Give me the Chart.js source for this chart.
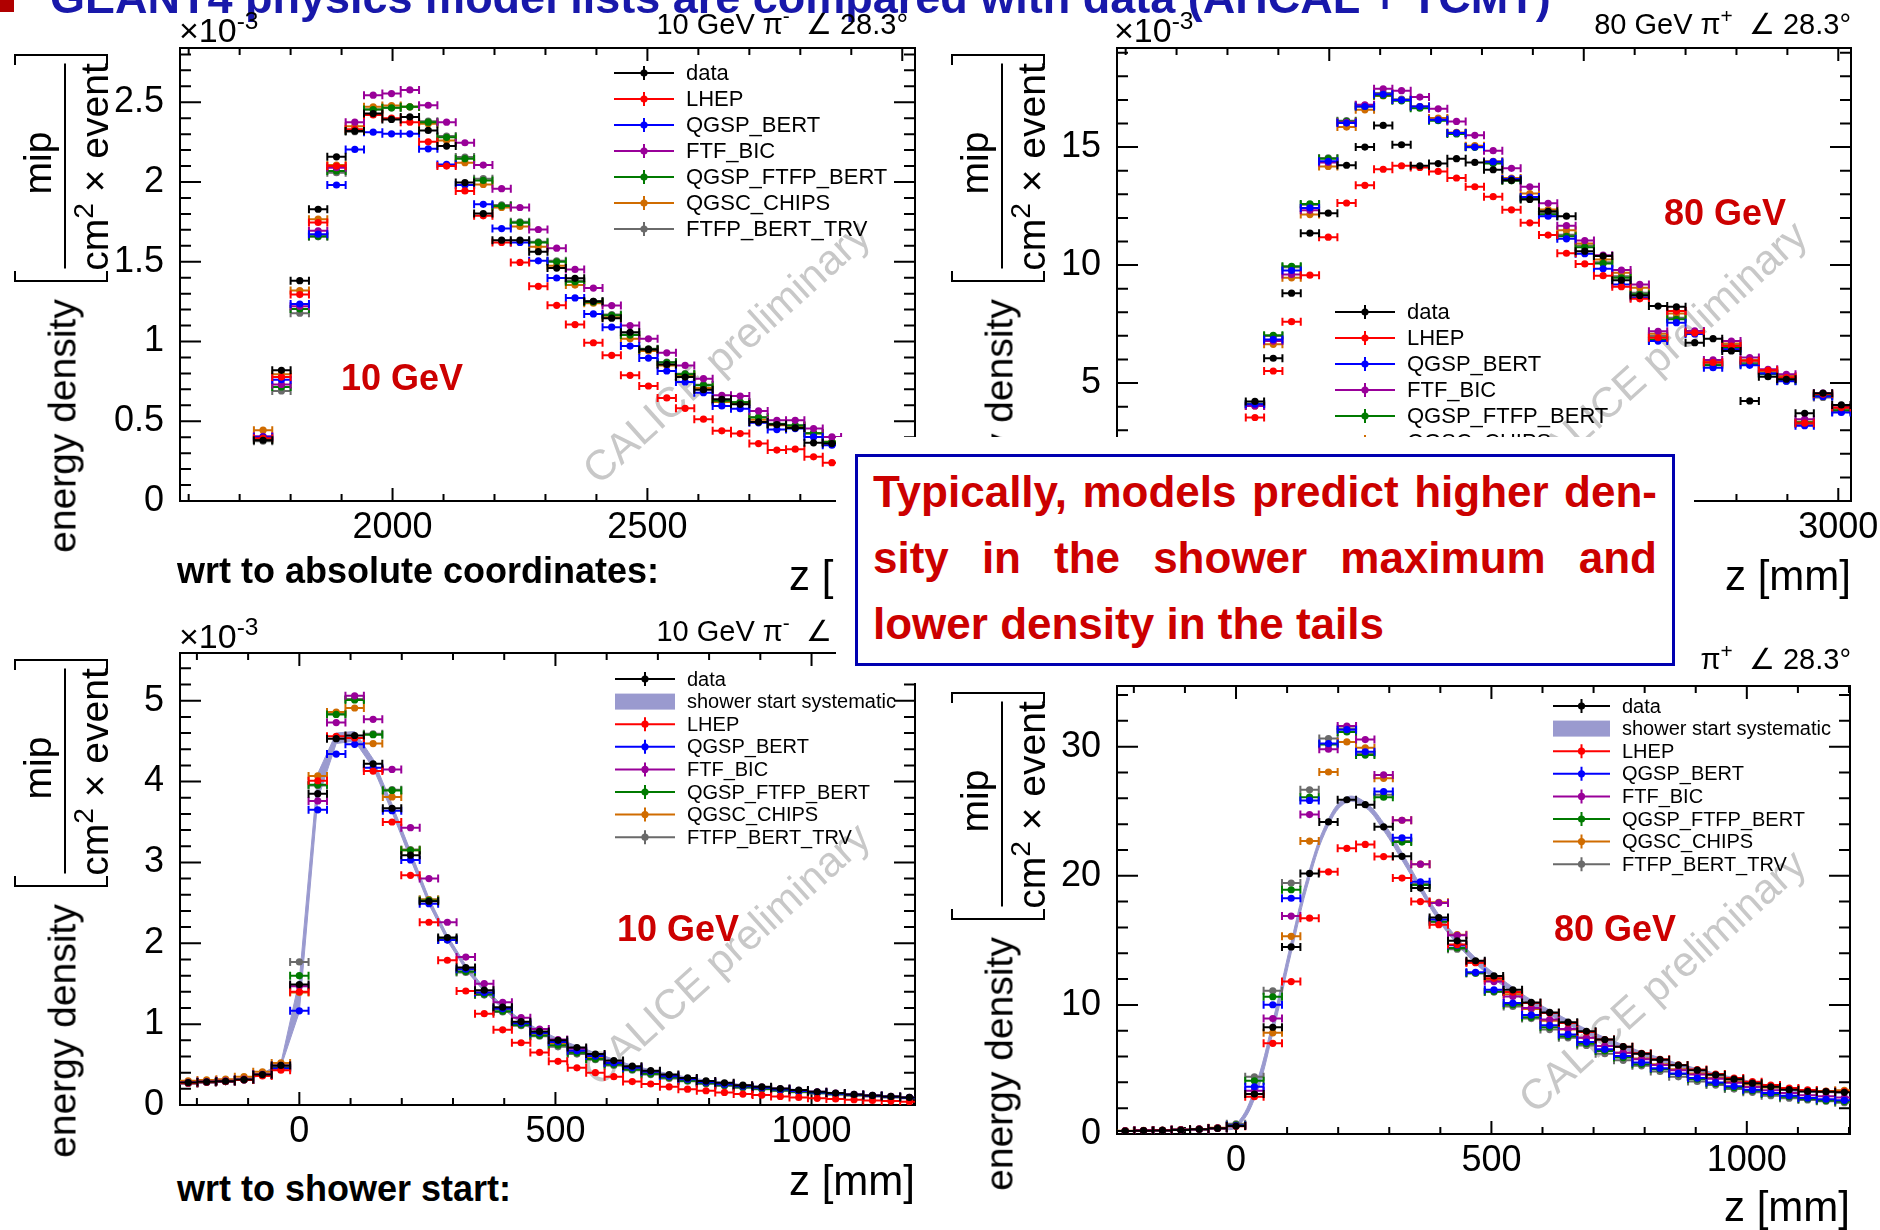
<!DOCTYPE html>
<html>
<head>
<meta charset="utf-8">
<title>GEANT4 physics lists vs data</title>
<script src="https://cdn.jsdelivr.net/npm/chart.js@4.4.1/dist/chart.umd.min.js"></script>
<style>
  html, body { margin: 0; padding: 0; background: #fff; }
  body { position: relative; width: 1880px; height: 1230px; overflow: hidden;
         font-family: "Liberation Sans", Arial, sans-serif; color: #000; }
  .a { position: absolute; white-space: nowrap; line-height: 1; }
  .r { position: absolute; white-space: nowrap; line-height: 1; transform: translate(-50%, -50%) rotate(-90deg); }
  .c { transform: translate(-50%, -50%); }
  .gev { font-weight: bold; color: #cc0000; font-size: 36px; }
  .brk { width: 228px; height: 94px; border-left: 2px solid #000; border-right: 2px solid #000; box-sizing: border-box; }
  .brk i { position: absolute; width: 9px; height: 2px; background: #000; }
  sup { font-size: 72%; vertical-align: 0; position: relative; top: -0.55em; }
  canvas { position: absolute; }
</style>
</head>
<body>
<div id="charts"></div>

<script>
// legend order and colours
const models = ['data', 'LHEP', 'QGSP_BERT', 'FTF_BIC', 'QGSP_FTFP_BERT', 'QGSC_CHIPS', 'FTFP_BERT_TRV'];
const modelColors = ['#000000', '#ff0000', '#0000ff', '#990099', '#007a00', '#d06c00', '#6a6a6a'];
const bandColor = '#9a9acf';

// tick labels
const absTicksX = [2000, 2500, 3000];
const startTicksX = [0, 500, 1000];
const abs10TicksY = [0, 0.5, 1, 1.5, 2, 2.5];
const abs80TicksY = [0, 5, 10, 15];
const st10TicksY = [0, 1, 2, 3, 4, 5];
const st80TicksY = [0, 10, 20, 30];

// bin centres (mm)
const zAbs10 = [1746,1782,1818,1854,1890,1926,1962,1998,2034,2070,2106,2142,2178,2214,2250,2286,2322,2358,2394,2430,2466,2502,2538,2574,2610,2646,2682,2718,2754,2790,2826,2862];
const zAbs80 = [1854,1890,1926,1962,1998,2034,2070,2106,2142,2178,2214,2250,2286,2322,2358,2394,2430,2466,2502,2538,2574,2610,2646,2682,2718,2754,2790,2826,2862,2898,2934,2970,3006];
const zStart = [-217,-181,-144,-108,-72,-36,0,36,72,108,144,181,217,253,289,325,361,397,433,469,505,542,578,614,650,686,722,758,794,830,866,903,939,975,1011,1047,1083,1119,1155,1191];

// 10 GeV, absolute z  (x10^-3)
const abs10Data  = [0.381,0.819,1.381,1.829,2.158,2.319,2.429,2.392,2.408,2.323,2.225,1.996,1.802,1.635,1.635,1.563,1.460,1.396,1.252,1.146,1.058,0.950,0.856,0.777,0.698,0.638,0.606,0.496,0.479,0.458,0.365,0.360];
const abs10LHEP  = [0.394,0.777,1.294,1.746,2.100,2.330,2.420,2.400,2.375,2.252,2.100,1.944,1.788,1.621,1.496,1.346,1.227,1.106,0.992,0.913,0.788,0.721,0.646,0.581,0.513,0.440,0.423,0.360,0.319,0.325,0.277,0.240];
const abs10QBert = [0.400,0.760,1.235,1.673,1.981,2.204,2.312,2.302,2.302,2.208,2.110,1.981,1.860,1.708,1.621,1.506,1.398,1.273,1.173,1.090,0.971,0.896,0.815,0.746,0.679,0.596,0.579,0.490,0.448,0.454,0.402,0.350];
const abs10FtfBic = [0.406,0.731,1.221,1.694,2.090,2.375,2.544,2.554,2.577,2.481,2.375,2.246,2.106,1.958,1.840,1.702,1.585,1.452,1.335,1.225,1.100,1.017,0.929,0.850,0.767,0.663,0.658,0.565,0.506,0.506,0.454,0.402];
const abs10QFtfp = [0.385,0.715,1.204,1.660,2.069,2.323,2.454,2.465,2.471,2.375,2.280,2.146,2.010,1.850,1.745,1.620,1.500,1.375,1.248,1.164,1.040,0.952,0.868,0.795,0.725,0.629,0.619,0.523,0.483,0.473,0.424,0.370];
const abs10Chips = [0.444,0.794,1.319,1.767,2.106,2.350,2.471,2.479,2.471,2.365,2.260,2.121,1.985,1.840,1.721,1.594,1.475,1.354,1.240,1.152,1.017,0.940,0.850,0.788,0.708,0.621,0.610,0.510,0.475,0.469,0.423,0.371];
const abs10Trv   = [0.375,0.690,1.177,1.656,2.058,2.315,2.454,2.465,2.471,2.381,2.288,2.156,2.021,1.856,1.750,1.625,1.506,1.381,1.252,1.169,1.044,0.954,0.871,0.798,0.729,0.631,0.621,0.527,0.485,0.475,0.427,0.371];

// 80 GeV, absolute z  (x10^-3)
const abs80Data  = [4.22,6.05,8.81,11.35,12.20,14.23,15.00,15.92,15.10,14.21,14.30,14.51,14.35,14.04,13.59,12.78,12.28,12.07,10.59,10.38,9.36,8.71,8.26,8.23,6.71,6.88,6.36,4.24,5.27,5.16,3.72,4.57,4.07];
const abs80LHEP  = [3.54,5.51,7.60,9.57,11.18,12.63,13.38,14.06,14.21,14.14,13.97,13.69,13.32,12.90,12.34,11.79,11.27,10.50,10.05,9.55,9.08,8.57,6.92,8.05,7.13,5.87,6.57,5.94,5.54,5.23,3.30,4.53,3.96];
const abs80QBert = [4.10,6.85,9.77,12.42,14.40,16.02,16.72,17.24,17.00,16.72,16.16,15.60,15.00,14.38,13.65,12.88,12.07,11.11,10.48,9.84,9.18,8.62,6.78,7.56,7.08,5.65,6.43,5.75,5.40,5.08,3.19,4.43,3.75];
const abs80FtfBic = [4.03,6.78,9.60,12.32,14.35,16.05,16.79,17.47,17.39,17.12,16.62,16.09,15.50,14.85,14.10,13.32,12.62,11.67,11.04,10.42,9.79,9.18,7.19,8.05,7.21,5.98,6.78,6.08,5.58,5.37,3.47,4.57,3.96];
const abs80QFtfp = [4.12,7.02,9.95,12.59,14.51,16.09,16.72,17.19,16.96,16.65,16.12,15.56,14.99,14.30,13.57,12.82,12.14,11.22,10.76,10.07,9.46,8.76,6.85,7.70,7.14,5.75,6.50,5.80,5.37,5.09,3.33,4.46,3.85];
const abs80Chips = [4.03,6.64,9.46,12.14,14.18,15.85,16.58,17.17,17.00,16.72,16.23,15.62,15.06,14.40,13.69,13.03,12.35,11.48,10.91,10.24,9.67,9.04,7.09,7.95,7.16,5.89,6.68,5.98,5.51,5.30,3.36,4.48,3.92];
const abs80Trv   = [4.08,6.99,9.91,12.56,14.54,16.12,16.77,17.29,17.03,16.72,16.19,15.60,15.03,14.33,13.62,12.85,12.21,11.29,10.83,10.12,9.53,8.83,6.99,7.77,7.11,5.80,6.64,5.87,5.44,5.16,3.26,4.39,3.78];

// 10 GeV, z from shower start  (x10^-3)
const st10Data  = [0.278,0.286,0.294,0.315,0.376,0.490,1.490,3.850,4.530,4.570,4.220,3.670,3.090,2.520,2.070,1.700,1.420,1.210,1.030,0.910,0.800,0.710,0.630,0.550,0.480,0.425,0.376,0.335,0.298,0.274,0.245,0.225,0.204,0.184,0.164,0.147,0.131,0.119,0.106,0.094];
const st10LHEP  = [0.270,0.280,0.290,0.310,0.360,0.430,1.400,4.010,4.560,4.540,4.130,3.500,2.840,2.260,1.790,1.410,1.130,0.930,0.770,0.650,0.540,0.460,0.400,0.350,0.290,0.260,0.225,0.196,0.176,0.155,0.135,0.123,0.106,0.094,0.082,0.074,0.065,0.057,0.049,0.041];
const st10QBert = [0.270,0.280,0.290,0.310,0.370,0.450,1.165,3.650,4.340,4.460,4.170,3.640,3.030,2.490,2.040,1.680,1.390,1.190,1.010,0.890,0.780,0.670,0.605,0.520,0.460,0.410,0.356,0.319,0.282,0.258,0.233,0.213,0.192,0.172,0.155,0.139,0.127,0.114,0.102,0.090];
const st10FtfBic = [0.280,0.290,0.300,0.320,0.380,0.490,1.470,3.760,4.730,5.060,4.770,4.150,3.430,2.800,2.260,1.830,1.500,1.270,1.080,0.940,0.810,0.695,0.620,0.530,0.470,0.417,0.368,0.327,0.290,0.266,0.241,0.221,0.200,0.180,0.164,0.147,0.131,0.119,0.106,0.094];
const st10QFtfp = [0.270,0.280,0.290,0.310,0.370,0.460,1.600,3.960,4.830,5.010,4.580,3.890,3.150,2.530,2.050,1.650,1.370,1.160,0.990,0.860,0.740,0.645,0.570,0.500,0.440,0.385,0.340,0.300,0.270,0.245,0.220,0.200,0.180,0.163,0.147,0.134,0.122,0.110,0.098,0.086];
const st10Chips = [0.300,0.310,0.320,0.350,0.410,0.520,1.390,4.070,4.860,4.910,4.470,3.810,3.150,2.540,2.050,1.680,1.390,1.190,1.000,0.880,0.760,0.660,0.590,0.510,0.450,0.400,0.356,0.320,0.280,0.258,0.233,0.213,0.192,0.172,0.155,0.139,0.127,0.114,0.102,0.090];
const st10Trv   = [0.270,0.280,0.290,0.310,0.370,0.470,1.770,3.950,4.840,5.020,4.590,3.900,3.160,2.540,2.040,1.640,1.360,1.150,0.980,0.850,0.720,0.630,0.560,0.490,0.430,0.376,0.327,0.294,0.262,0.237,0.213,0.196,0.176,0.159,0.143,0.131,0.119,0.106,0.094,0.082];
const st10SysLo = [0.27,0.28,0.29,0.31,0.37,0.47,1.15,3.78,4.47,4.50,4.17,3.62,3.04,2.48,2.03,1.67,1.40,1.19,1.01,0.89,0.78,0.70,0.62,0.54,0.47,0.415,0.368,0.328,0.294,0.268,0.240,0.220,0.199,0.180,0.160,0.143,0.128,0.116,0.103,0.091];
const st10SysHi = [0.29,0.30,0.30,0.32,0.39,0.52,1.55,4.10,4.60,4.62,4.28,3.72,3.14,2.56,2.10,1.73,1.45,1.23,1.05,0.93,0.82,0.73,0.645,0.565,0.49,0.435,0.385,0.343,0.307,0.281,0.251,0.231,0.209,0.189,0.169,0.152,0.135,0.123,0.110,0.098];

// 80 GeV, z from shower start
const st80Data  = [0.23,0.26,0.28,0.31,0.36,0.44,0.61,3.10,8.27,14.49,20.18,24.17,25.89,25.51,23.79,21.51,19.05,16.77,14.96,13.42,12.24,11.17,10.19,9.42,8.66,7.96,7.32,6.76,6.22,5.76,5.33,4.94,4.58,4.25,3.94,3.66,3.43,3.30,3.28,3.23];
const st80LHEP  = [0.24,0.27,0.29,0.32,0.37,0.45,0.60,2.89,7.02,11.81,16.72,20.31,22.13,22.43,21.49,19.82,18.00,16.21,14.67,13.27,12.06,10.99,10.14,9.37,8.60,7.91,7.32,6.76,6.25,5.79,5.35,4.99,4.64,4.33,4.05,3.79,3.56,3.41,3.30,3.28];
const st80QBert = [0.24,0.27,0.29,0.32,0.37,0.45,0.66,3.66,10.01,18.26,25.84,30.24,31.32,29.60,26.53,22.94,19.54,16.62,14.62,12.52,11.17,10.14,9.22,8.42,7.71,7.12,6.56,6.04,5.53,5.10,4.69,4.33,3.99,3.69,3.43,3.18,2.97,2.79,2.69,2.61];
const st80FtfBic = [0.24,0.27,0.29,0.32,0.37,0.45,0.64,3.35,8.94,16.88,24.74,29.81,31.60,30.55,27.81,24.30,20.90,17.90,15.39,13.34,11.81,10.65,9.76,8.86,8.14,7.45,6.81,6.30,5.79,5.35,4.94,4.61,4.28,3.97,3.64,3.38,3.18,3.00,2.92,2.82];
const st80QFtfp = [0.24,0.27,0.29,0.32,0.37,0.45,0.70,4.12,10.63,18.92,26.09,30.17,31.14,29.35,26.09,22.61,19.28,16.46,14.41,12.45,11.04,10.01,9.04,8.27,7.58,6.99,6.43,5.92,5.40,5.02,4.64,4.25,3.92,3.61,3.35,3.10,2.89,2.71,2.59,2.51];
const st80Chips = [0.26,0.29,0.31,0.34,0.39,0.49,0.66,3.10,7.84,15.31,22.69,28.04,30.37,29.91,27.55,24.30,20.90,17.95,15.44,13.29,11.93,10.83,9.68,8.78,8.09,7.45,6.81,6.30,5.84,5.40,5.02,4.69,4.35,4.07,3.84,3.61,3.48,3.33,3.33,3.38];
const st80Trv   = [0.24,0.27,0.29,0.32,0.37,0.45,0.79,4.43,11.09,19.44,26.66,30.63,31.40,29.48,26.27,22.69,19.36,16.41,14.31,12.45,10.99,9.88,8.94,8.09,7.45,6.86,6.22,5.71,5.28,4.84,4.43,4.07,3.79,3.48,3.23,2.97,2.77,2.64,2.54,2.43];
const st80SysLo = [0.20,0.23,0.25,0.28,0.33,0.40,0.50,2.70,7.80,14.0,19.8,23.9,25.7,25.3,23.5,21.2,18.8,16.5,14.7,13.2,12.0,10.95,9.98,9.22,8.47,7.78,7.15,6.60,6.07,5.62,5.20,4.81,4.46,4.14,3.84,3.57,3.35,3.22,3.20,3.15];
const st80SysHi = [0.26,0.29,0.31,0.34,0.39,0.48,0.75,3.50,8.75,14.9,20.5,24.4,26.1,25.7,24.1,21.8,19.3,17.0,15.2,13.65,12.45,11.37,10.39,9.61,8.84,8.13,7.48,6.91,6.37,5.90,5.46,5.07,4.70,4.36,4.04,3.75,3.52,3.38,3.36,3.31];

const FONT = '"Liberation Sans", Arial, sans-serif';

// horizontal bin-width bars drawn under each dataset's markers
const errBars = {
  id: 'errBars',
  beforeDatasetDraw(chart, args) {
    const ds = chart.data.datasets[args.index];
    if (!ds.xErr) return;
    const { ctx, chartArea: a, scales: { x, y } } = chart;
    ctx.save();
    ctx.beginPath();
    ctx.rect(a.left, a.top, a.right - a.left, a.bottom - a.top);
    ctx.clip();
    ctx.strokeStyle = ds.borderColor;
    ctx.lineWidth = 2;
    ctx.beginPath();
    for (const p of ds.data) {
      const x0 = x.getPixelForValue(p.x - ds.xErr);
      const x1 = x.getPixelForValue(p.x + ds.xErr);
      const py = y.getPixelForValue(p.y);
      ctx.moveTo(x0, py); ctx.lineTo(x1, py);
      ctx.moveTo(x0, py - 4); ctx.lineTo(x0, py + 4);
      ctx.moveTo(x1, py - 4); ctx.lineTo(x1, py + 4);
    }
    ctx.stroke();
    ctx.restore();
  }
};

// ROOT-like frame: box with inward ticks on all four sides
const frame = {
  id: 'frame',
  beforeDatasetsDraw(chart, args, o) {
    const { ctx, chartArea: a, scales: { x, y } } = chart;
    ctx.save();
    ctx.strokeStyle = '#000';
    ctx.lineWidth = 2;
    ctx.strokeRect(a.left, a.top, a.right - a.left, a.bottom - a.top);
    ctx.beginPath();
    const xr = Math.round(o.xMajor / o.xMinor);
    for (let k = Math.ceil(x.min / o.xMinor); k * o.xMinor <= x.max; k++) {
      const px = x.getPixelForValue(k * o.xMinor);
      const L = k % xr === 0 ? 13 : 7;
      ctx.moveTo(px, a.bottom); ctx.lineTo(px, a.bottom - L);
      ctx.moveTo(px, a.top); ctx.lineTo(px, a.top + L);
    }
    const yr = Math.round(o.yMajor / o.yMinor);
    for (let k = Math.ceil(y.min / o.yMinor - 1e-9); k * o.yMinor <= y.max + 1e-9; k++) {
      const py = y.getPixelForValue(k * o.yMinor);
      const L = k % yr === 0 ? 21 : 11;
      ctx.moveTo(a.left, py); ctx.lineTo(a.left + L, py);
      ctx.moveTo(a.right, py); ctx.lineTo(a.right - L, py);
    }
    ctx.stroke();
    ctx.restore();
  }
};

const watermark = {
  id: 'watermark',
  beforeDatasetsDraw(chart, args, o) {
    const { ctx, chartArea: a } = chart;
    ctx.save();
    ctx.translate(a.left + o.cx, a.top + o.cy);
    ctx.rotate(-42 * Math.PI / 180);
    ctx.font = '42px ' + FONT;
    ctx.fillStyle = '#c8c8c8';
    ctx.textAlign = 'center';
    ctx.textBaseline = 'middle';
    ctx.fillText('CALICE preliminary', 0, 0);
    ctx.restore();
  }
};

const rootLegend = {
  id: 'rootLegend',
  afterDatasetsDraw(chart, args, o) {
    const { ctx, chartArea: a } = chart;
    ctx.save();
    ctx.font = o.size + 'px ' + FONT;
    ctx.textBaseline = 'middle';
    ctx.lineWidth = 2;
    o.entries.forEach((e, i) => {
      const y = a.top + o.top + i * o.rowH;
      const x0 = a.left + o.left, x1 = x0 + o.lineLen, xc = (x0 + x1) / 2;
      if (e.band) {
        ctx.fillStyle = e.color;
        ctx.fillRect(x0, y - 8, o.lineLen, 16);
      } else {
        ctx.strokeStyle = e.color;
        ctx.beginPath();
        ctx.moveTo(x0, y); ctx.lineTo(x1, y);
        ctx.moveTo(xc, y - 7); ctx.lineTo(xc, y + 7);
        ctx.stroke();
        ctx.fillStyle = e.color;
        ctx.beginPath();
        ctx.arc(xc, y, 3.6, 0, Math.PI * 2);
        ctx.fill();
      }
      ctx.fillStyle = '#000';
      ctx.fillText(e.label, x1 + o.gap, y + 1);
    });
    ctx.restore();
  }
};

function makeCanvas(area) {
  const c = document.createElement('canvas');
  const L = area[0] - 100, T = area[1] - 12;
  const W = area[2] - area[0] + 140, H = area[3] - area[1] + 72;
  c.width = W; c.height = H;
  c.style.left = L + 'px'; c.style.top = T + 'px';
  c.style.width = W + 'px'; c.style.height = H + 'px';
  document.getElementById('charts').appendChild(c);
  return c;
}

// fixed axis size, no label-overflow padding
function fixAxis(size, horizontal) {
  return s => {
    if (horizontal) s.height = size; else s.width = size;
    s.paddingLeft = 0; s.paddingRight = 0; s.paddingTop = 0; s.paddingBottom = 0;
  };
}

function drawPanel(cfg) {
  const datasets = cfg.series.map((ys, i) => ({
    type: 'scatter',
    label: models[i],
    data: cfg.xs.map((x, j) => ({ x: x, y: ys[j] })),
    backgroundColor: modelColors[i],
    borderColor: modelColors[i],
    borderWidth: 0,
    pointRadius: 3.6,
    pointHoverRadius: 3.6,
    xErr: 18
  }));
  const entries = models.map((m, i) => ({ label: m, color: modelColors[i] }));
  if (cfg.band) {
    datasets.push({
      type: 'line', label: 'sys high', showLine: true,
      data: cfg.xs.map((x, j) => ({ x: x, y: cfg.band[1][j] })),
      fill: '+1', backgroundColor: bandColor, borderColor: bandColor, borderWidth: 1,
      pointRadius: 0, tension: cfg.tension
    });
    datasets.push({
      type: 'line', label: 'sys low', showLine: true,
      data: cfg.xs.map((x, j) => ({ x: x, y: cfg.band[0][j] })),
      fill: false, backgroundColor: bandColor, borderColor: bandColor, borderWidth: 1,
      pointRadius: 0, tension: cfg.tension
    });
    entries.splice(1, 0, { label: 'shower start systematic', color: bandColor, band: true });
  }
  const tickFont = { family: FONT, size: 36 };
  new Chart(makeCanvas(cfg.area), {
    type: 'scatter',
    data: { datasets: datasets },
    options: {
      responsive: false,
      animation: false,
      events: [],
      layout: { padding: { left: 0, top: 12, right: 40, bottom: 0 }, autoPadding: false },
      plugins: {
        legend: { display: false },
        tooltip: { enabled: false },
        frame: cfg.frame,
        watermark: cfg.mark,
        rootLegend: Object.assign({ entries: entries }, cfg.legend)
      },
      scales: {
        x: {
          type: 'linear', min: cfg.x[0], max: cfg.x[1],
          afterBuildTicks: s => { s.ticks = cfg.xTicks.map(v => ({ value: v })); },
          afterFit: fixAxis(60, true),
          grid: { display: false, drawTicks: false },
          border: { display: false },
          ticks: { maxRotation: 0, minRotation: 0, autoSkip: false,
                   padding: 5, color: '#000', font: tickFont, callback: v => String(v) }
        },
        y: {
          type: 'linear', min: cfg.y[0], max: cfg.y[1],
          afterBuildTicks: s => { s.ticks = cfg.yTicks.map(v => ({ value: v })); },
          afterFit: fixAxis(100, false),
          grid: { display: false, drawTicks: false },
          border: { display: false },
          ticks: { autoSkip: false, padding: 16, color: '#000', font: tickFont,
                   callback: v => String(v) }
        }
      }
    },
    plugins: [watermark, frame, errBars, rootLegend]
  });
}

drawPanel({
  area: [180, 48, 915, 501], xs: zAbs10,
  series: [abs10Data, abs10LHEP, abs10QBert, abs10FtfBic, abs10QFtfp, abs10Chips, abs10Trv],
  x: [1583, 3025], y: [0, 2.84], xTicks: absTicksX, yTicks: abs10TicksY,
  frame: { xMajor: 500, xMinor: 100, yMajor: 0.5, yMinor: 0.1 },
  legend: { left: 434, top: 25, rowH: 26, size: 22, lineLen: 60, gap: 12 },
  mark: { cx: 548, cy: 306 }
});
drawPanel({
  area: [1117, 48, 1851, 501], xs: zAbs80,
  series: [abs80Data, abs80LHEP, abs80QBert, abs80FtfBic, abs80QFtfp, abs80Chips, abs80Trv],
  x: [1583, 3025], y: [0, 19.2], xTicks: absTicksX, yTicks: abs80TicksY,
  frame: { xMajor: 500, xMinor: 100, yMajor: 5, yMinor: 1 },
  legend: { left: 218, top: 264, rowH: 26, size: 22, lineLen: 60, gap: 12 },
  mark: { cx: 548, cy: 306 }
});
drawPanel({
  area: [180, 653, 915, 1105], xs: zStart,
  series: [st10Data, st10LHEP, st10QBert, st10FtfBic, st10QFtfp, st10Chips, st10Trv],
  band: [st10SysLo, st10SysHi], tension: 0,
  x: [-233, 1202], y: [0, 5.59], xTicks: startTicksX, yTicks: st10TicksY,
  frame: { xMajor: 500, xMinor: 100, yMajor: 1, yMinor: 0.2 },
  legend: { left: 435, top: 26, rowH: 22.6, size: 20, lineLen: 60, gap: 12 },
  mark: { cx: 548, cy: 303 }
});
drawPanel({
  area: [1117, 686, 1850, 1134], xs: zStart,
  series: [st80Data, st80LHEP, st80QBert, st80FtfBic, st80QFtfp, st80Chips, st80Trv],
  band: [st80SysLo, st80SysHi], tension: 0.4,
  x: [-233, 1202], y: [0, 34.7], xTicks: startTicksX, yTicks: st80TicksY,
  frame: { xMajor: 500, xMinor: 100, yMajor: 10, yMinor: 2 },
  legend: { left: 436, top: 20, rowH: 22.6, size: 20, lineLen: 57, gap: 12 },
  mark: { cx: 547, cy: 297 }
});

// y axis title:  energy density [ mip / (cm^2 x event) ]
function yTitle(dx, dy) {
  document.body.insertAdjacentHTML('beforeend', `
    <div class="r" style="left:${62 + dx}px;top:${426 + dy}px;font-size:39px">energy density</div>
    <div class="r brk" style="left:${61 + dx}px;top:${168 + dy}px"><i style="left:0;top:0"></i><i style="left:0;bottom:0"></i><i style="right:0;top:0"></i><i style="right:0;bottom:0"></i></div>
    <div class="r" style="left:${37 + dx}px;top:${163 + dy}px;font-size:39px">mip</div>
    <div class="r" style="left:${65 + dx}px;top:${166 + dy}px;width:205px;height:2px;background:#000"></div>
    <div class="r" style="left:${94 + dx}px;top:${167 + dy}px;font-size:39px">cm<sup>2</sup> × event</div>`);
}
yTitle(0, 0);
yTitle(937, 0);
yTitle(0, 605);
yTitle(937, 638);

document.body.insertAdjacentHTML('beforeend', `
  <div class="a" style="left:0;top:0;width:14px;height:12px;background:#b00000"></div>
  <div class="a" style="left:50px;top:-25px;font-size:45px;font-weight:bold;color:#1818aa">GEANT4 physics model lists are compared with data (AHCAL + TCMT)</div>

  <div class="a" style="left:179px;top:13px;font-size:34px">×10<sup>-3</sup></div>
  <div class="a" style="left:1114px;top:13px;font-size:34px">×10<sup>-3</sup></div>
  <div class="a" style="left:179px;top:619px;font-size:34px">×10<sup>-3</sup></div>

  <div class="a" style="right:972px;top:10px;font-size:29px">10 GeV π<sup>-</sup> &nbsp;∠ 28.3°</div>
  <div class="a" style="right:29px;top:10px;font-size:29px">80 GeV π<sup>+</sup> &nbsp;∠ 28.3°</div>
  <div class="a" style="right:972px;top:617px;font-size:29px">10 GeV π<sup>-</sup> &nbsp;∠ 28.3°</div>
  <div class="a" style="right:29px;top:645px;font-size:29px">80 GeV π<sup>+</sup> &nbsp;∠ 28.3°</div>

  <div class="a c gev" style="left:402px;top:378px">10 GeV</div>
  <div class="a c gev" style="left:1725px;top:213px">80 GeV</div>
  <div class="a c gev" style="left:678px;top:929px">10 GeV</div>
  <div class="a c gev" style="left:1615px;top:929px">80 GeV</div>

  <div class="a" style="right:965px;top:555px;font-size:42px">z [mm]</div>
  <div class="a" style="right:29px;top:555px;font-size:42px">z [mm]</div>
  <div class="a" style="right:965px;top:1160px;font-size:42px">z [mm]</div>
  <div class="a" style="right:30px;top:1186px;font-size:42px">z [mm]</div>

  <div class="a" style="left:177px;top:553px;font-size:36px;font-weight:bold">wrt to absolute coordinates:</div>
  <div class="a" style="left:177px;top:1171px;font-size:36px;font-weight:bold">wrt to shower start:</div>

  <div class="a" style="left:836px;top:437px;width:858px;height:246px;background:#fff"></div>
  <div class="a" style="left:855px;top:454px;width:820px;height:212px;border:3px solid #0000b0;box-sizing:border-box"></div>
  <div style="position:absolute;left:873px;top:459px;width:784px;font-size:44px;font-weight:bold;color:#cc0000;line-height:66px;text-align:justify">Typically, models predict higher den- sity in the shower maximum and lower density in the tails</div>
`);
</script>
</body>
</html>
